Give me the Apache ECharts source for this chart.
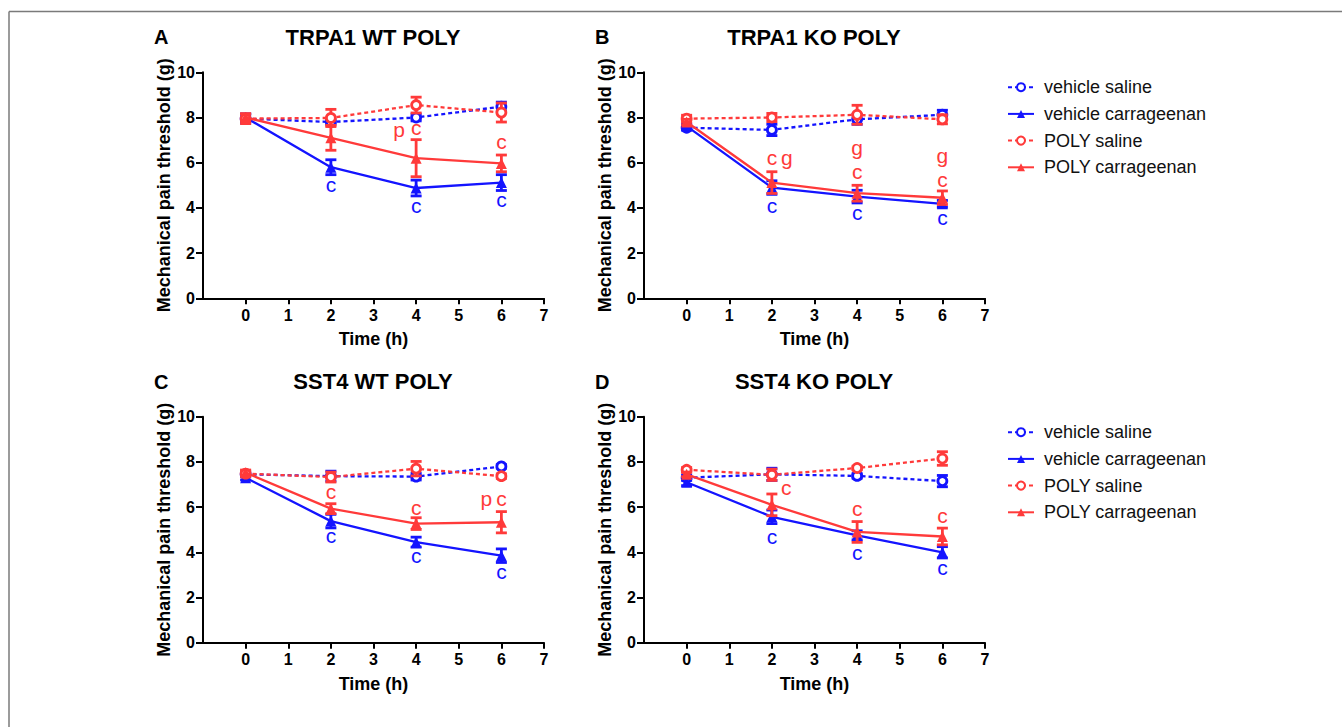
<!DOCTYPE html>
<html>
<head>
<meta charset="utf-8">
<script src="https://cdn.jsdelivr.net/npm/echarts@6/dist/echarts.min.js"></script>
<style>
html,body{margin:0;padding:0;background:#fff;}
#chart{width:1342px;height:727px;}
</style>
</head>
<body>
<div id="chart"></div>
<script>
// ---------- DATA ----------
const timePoints = [0, 2, 4, 6];
const xTicks = [0, 1, 2, 3, 4, 5, 6, 7];
const yTicks = [0, 2, 4, 6, 8, 10];
const seriesNames = ['vehicle saline', 'vehicle carrageenan', 'POLY saline', 'POLY carrageenan'];
const panelLetters = ['A', 'B', 'C', 'D'];
const panelTitles = ['TRPA1 WT POLY', 'TRPA1 KO POLY', 'SST4 WT POLY', 'SST4 KO POLY'];
const xAxisName = 'Time (h)';
const yAxisName = 'Mechanical pain threshold (g)';

// Panel A
const A_vehSal = [7.95, 7.80, 8.00, 8.48];   const A_vehSalErr = [0.20, 0.10, 0.15, 0.20];
const A_vehCar = [8.00, 5.80, 4.88, 5.12];   const A_vehCarErr = [0.15, 0.33, 0.35, 0.35];
const A_polySal = [7.95, 7.98, 8.55, 8.22];  const A_polySalErr = [0.22, 0.38, 0.35, 0.42];
const A_polyCar = [8.00, 7.10, 6.20, 5.97];  const A_polyCarErr = [0.15, 0.55, 0.82, 0.37];
const A_blueNotes = [[2, 4.94, 'c'], [4, 4.03, 'c'], [6, 4.28, 'c']];
const A_redNotes = [[3.6, 7.40, 'p'], [4, 7.45, 'c'], [6, 6.86, 'c']];

// Panel B
const B_vehSal = [7.55, 7.45, 7.92, 8.12];   const B_vehSalErr = [0.10, 0.25, 0.22, 0.20];
const B_vehCar = [7.62, 4.90, 4.50, 4.18];   const B_vehCarErr = [0.10, 0.30, 0.28, 0.15];
const B_polySal = [7.95, 8.00, 8.12, 7.92];  const B_polySalErr = [0.15, 0.18, 0.42, 0.20];
const B_polyCar = [7.80, 5.12, 4.65, 4.45];  const B_polyCarErr = [0.12, 0.48, 0.35, 0.30];
const B_blueNotes = [[2, 4.01, 'c'], [4, 3.69, 'c'], [6, 3.50, 'c']];
const B_redNotes = [[2, 6.12, 'c'], [2.35, 6.12, 'g'], [4, 6.58, 'g'], [4, 5.52, 'c'], [6, 6.24, 'g'], [6, 5.19, 'c']];

// Panel C
const C_vehSal = [7.45, 7.37, 7.35, 7.80];   const C_vehSalErr = [0.10, 0.22, 0.15, 0.08];
const C_vehCar = [7.30, 5.38, 4.45, 3.85];   const C_vehCarErr = [0.10, 0.30, 0.22, 0.30];
const C_polySal = [7.48, 7.33, 7.70, 7.37];  const C_polySalErr = [0.12, 0.22, 0.32, 0.10];
const C_polyCar = [7.52, 5.93, 5.27, 5.33];  const C_polyCarErr = [0.12, 0.22, 0.26, 0.47];
const C_blueNotes = [[2, 4.66, 'c'], [4, 3.76, 'c'], [6, 3.04, 'c']];
const C_redNotes = [[2, 6.61, 'c'], [4, 5.91, 'c'], [5.65, 6.31, 'p'], [6, 6.31, 'c']];

// Panel D
const D_vehSal = [7.30, 7.45, 7.38, 7.15];   const D_vehSalErr = [0.12, 0.27, 0.10, 0.25];
const D_vehCar = [7.10, 5.57, 4.75, 4.00];   const D_vehCarErr = [0.15, 0.30, 0.20, 0.25];
const D_polySal = [7.65, 7.43, 7.73, 8.15];  const D_polySalErr = [0.10, 0.25, 0.08, 0.30];
const D_polyCar = [7.45, 6.10, 4.90, 4.70];  const D_polyCarErr = [0.10, 0.48, 0.46, 0.37];
const D_blueNotes = [[2, 4.62, 'c'], [4, 3.90, 'c'], [6, 3.23, 'c']];
const D_redNotes = [[2.34, 6.80, 'c'], [4, 5.84, 'c'], [6, 5.55, 'c']];

// ---------- STYLE / LAYOUT ----------
const FONT = '"Liberation Sans", Arial, Helvetica, sans-serif';
const BLUE = '#1414ff';
const RED = '#ff3a3a';
const panels = [
  { vals: [A_vehSal, A_vehCar, A_polySal, A_polyCar], errs: [A_vehSalErr, A_vehCarErr, A_polySalErr, A_polyCarErr], blue: A_blueNotes, red: A_redNotes },
  { vals: [B_vehSal, B_vehCar, B_polySal, B_polyCar], errs: [B_vehSalErr, B_vehCarErr, B_polySalErr, B_polyCarErr], blue: B_blueNotes, red: B_redNotes },
  { vals: [C_vehSal, C_vehCar, C_polySal, C_polyCar], errs: [C_vehSalErr, C_vehCarErr, C_polySalErr, C_polyCarErr], blue: C_blueNotes, red: C_redNotes },
  { vals: [D_vehSal, D_vehCar, D_polySal, D_polyCar], errs: [D_vehSalErr, D_vehCarErr, D_polySalErr, D_polyCarErr], blue: D_blueNotes, red: D_redNotes }
];
const gridPos = [
  { left: 203, top: 72.3 },
  { left: 644, top: 72.3 },
  { left: 203, top: 416.7 },
  { left: 644, top: 416.7 }
];
const GW = 341, GH = 226;
const seriesStyle = [
  { color: BLUE, dashed: true, symbol: 'circle' },
  { color: BLUE, dashed: false, symbol: 'triangle' },
  { color: RED, dashed: true, symbol: 'circle' },
  { color: RED, dashed: false, symbol: 'triangle' }
];

const grids = [], xAxes = [], yAxes = [], series = [], graphics = [];

panels.forEach((p, i) => {
  const g = gridPos[i];
  grids.push({ left: g.left, top: g.top, width: GW, height: GH, containLabel: false });
  xAxes.push({
    type: 'value', gridIndex: i, min: -1, max: 7, interval: 1,
    axisLine: { show: true, onZero: false, lineStyle: { color: '#000', width: 2 } },
    axisTick: { show: true, customValues: xTicks, length: 6, lineStyle: { color: '#000', width: 2 } },
    axisLabel: { customValues: xTicks, color: '#000', fontSize: 16, fontWeight: 'bold', fontFamily: FONT, margin: 9 },
    splitLine: { show: false },
    name: xAxisName, nameLocation: 'middle', nameGap: 32,
    nameTextStyle: { color: '#000', fontSize: 18, fontWeight: 'bold', fontFamily: FONT }
  });
  yAxes.push({
    type: 'value', gridIndex: i, min: 0, max: 10, interval: 2,
    axisLine: { show: true, onZero: false, lineStyle: { color: '#000', width: 2 } },
    axisTick: { show: true, customValues: yTicks, length: 7, lineStyle: { color: '#000', width: 2 } },
    axisLabel: { customValues: yTicks, color: '#000', fontSize: 16, fontWeight: 'bold', fontFamily: FONT, margin: 8 },
    splitLine: { show: false },
    name: yAxisName, nameLocation: 'middle', nameGap: 30,
    nameTextStyle: { color: '#000', fontSize: 18, fontWeight: 'bold', fontFamily: FONT }
  });

  p.vals.forEach((v, s) => {
    const st = seriesStyle[s];
    const e = p.errs[s];
    // error bars
    series.push({
      type: 'custom', name: seriesNames[s] + ' SEM', xAxisIndex: i, yAxisIndex: i,
      z: 3 + s,
      data: timePoints.map((t, k) => [t, v[k] - e[k], v[k] + e[k]]),
      encode: { x: 0, y: [1, 2] },
      renderItem: function (params, api) {
        const x = api.value(0);
        const pLo = api.coord([x, api.value(1)]);
        const pHi = api.coord([x, api.value(2)]);
        const hw = 5.5;
        const style = { stroke: st.color, lineWidth: 2.8, fill: null };
        return {
          type: 'group', children: [
            { type: 'line', shape: { x1: pLo[0], y1: pLo[1], x2: pHi[0], y2: pHi[1] }, style: style },
            { type: 'line', shape: { x1: pLo[0] - hw, y1: pLo[1], x2: pLo[0] + hw, y2: pLo[1] }, style: style },
            { type: 'line', shape: { x1: pHi[0] - hw, y1: pHi[1], x2: pHi[0] + hw, y2: pHi[1] }, style: style }
          ]
        };
      },
      animation: false
    });
    // mean line
    series.push({
      type: 'line', name: seriesNames[s], xAxisIndex: i, yAxisIndex: i,
      z: 3 + s,
      data: timePoints.map((t, k) => [t, v[k]]),
      symbol: st.symbol,
      symbolSize: st.symbol === 'circle' ? 9 : 11,
      showSymbol: true,
      lineStyle: { color: st.color, width: 2.3, type: st.dashed ? [4, 3] : 'solid' },
      itemStyle: st.symbol === 'circle'
        ? { color: '#fff', borderColor: st.color, borderWidth: 2.8 }
        : { color: st.color, borderColor: st.color, borderWidth: 0 },
      emphasis: { disabled: true },
      animation: false
    });
  });

  [[p.blue, BLUE], [p.red, RED]].forEach(([notes, col]) => {
    series.push({
      type: 'custom', name: 'notes', xAxisIndex: i, yAxisIndex: i, z: 10,
      data: notes.map(n => [n[0], n[1]]),
      encode: { x: 0, y: 1 },
      renderItem: function (params, api) {
        const pt = api.coord([api.value(0), api.value(1)]);
        return {
          type: 'text', x: pt[0], y: pt[1] - 2,
          style: { text: notes[params.dataIndex][2], fill: col, font: '21px ' + FONT, lineHeight: 17, align: 'center', verticalAlign: 'middle' }
        };
      },
      animation: false
    });
  });

  // panel letter and title
  const letterX = g.left - 49;
  const titleX = g.left + 170;
  const titleY = g.top - 35;
  graphics.push({
    type: 'text', x: letterX, y: titleY,
    style: { text: panelLetters[i], fill: '#000', font: 'bold 20px ' + FONT, align: 'left', verticalAlign: 'middle' }
  });
  graphics.push({
    type: 'text', x: titleX, y: titleY,
    style: { text: panelTitles[i], fill: '#000', font: 'bold 22px ' + FONT, align: 'center', verticalAlign: 'middle' }
  });
});

// figure frame
graphics.push({ type: 'line', shape: { x1: 9, y1: 11.5, x2: 1342, y2: 11.5 }, style: { stroke: '#7a7a7a', lineWidth: 1.5 } });
graphics.push({ type: 'line', shape: { x1: 9, y1: 11.5, x2: 9, y2: 727 }, style: { stroke: '#7a7a7a', lineWidth: 1.5 } });

const legendBase = {
  data: seriesNames, orient: 'vertical', left: 1002,
  itemWidth: 26, itemHeight: 10, itemGap: 8.7,
  textStyle: { fontSize: 18, lineHeight: 18, color: '#111', fontFamily: FONT, padding: [0, 0, 0, 5] },
  selectedMode: false
};

const chart = echarts.init(document.getElementById('chart'), null, { renderer: 'svg' });
chart.setOption({
  backgroundColor: '#fff',
  animation: false,
  textStyle: { fontFamily: FONT },
  grid: grids,
  xAxis: xAxes,
  yAxis: yAxes,
  legend: [
    Object.assign({}, legendBase, { top: 73.2 }),
    Object.assign({}, legendBase, { top: 418.2 })
  ],
  series: series,
  graphic: graphics
});
</script>
</body>
</html>
